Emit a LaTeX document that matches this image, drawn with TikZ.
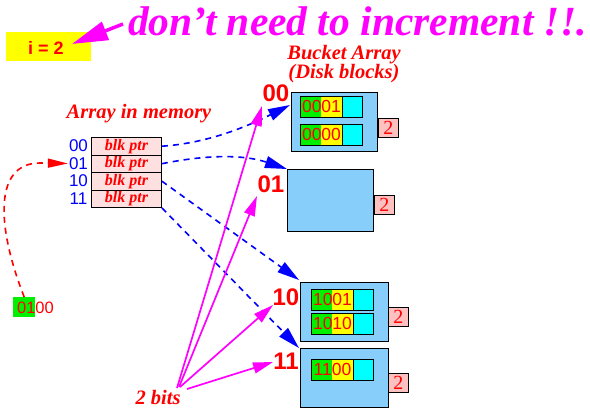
\documentclass[tikz,border=0pt]{standalone}
\usepackage{fontspec}
\setmainfont{Liberation Serif}
\setsansfont{Liberation Sans}
\usetikzlibrary{arrows.meta}
\definecolor{mag}{RGB}{255,0,255}
\definecolor{blu}{RGB}{0,0,255}
\definecolor{rd}{RGB}{255,0,0}
\definecolor{ylw}{RGB}{255,255,0}
\definecolor{grn}{RGB}{0,240,0}
\definecolor{cyn}{RGB}{0,255,255}
\definecolor{bkt}{RGB}{135,206,250}
\definecolor{pnk}{RGB}{255,192,192}
\definecolor{cellpink}{RGB}{255,224,224}
\newcommand\recbox[4]{%
  \fill[grn] (#1,#2) rectangle ++(21,21);
  \fill[ylw] (#1+21,#2) rectangle ++(21,21);
  \fill[cyn] (#1+42,#2) rectangle ++(20,21);
  \draw[line width=0.9pt] (#1,#2) rectangle ++(62,21);
  \draw[line width=0.9pt] (#1+42,#2) -- ++(0,21);
  \node[rectxt] (#3) at (#1+21.5,#2+10.5) {#4};
}
\begin{document}
\begin{tikzpicture}[x=1pt,y=-1pt,
  bucket/.style={draw=black, line width=1pt, fill=bkt, anchor=north west, inner sep=0pt},
  dbox/.style={draw=black, line width=0.9pt, fill=pnk, anchor=north west, inner sep=0pt,
     minimum width=20pt, minimum height=19pt, text=rd, font=\fontsize{20}{20}\selectfont},
  cell/.style={draw=black, line width=0.9pt, fill=cellpink, anchor=north west, inner sep=0pt,
     minimum width=70pt, minimum height=17.5pt, text=rd, font=\bfseries\itshape\fontsize{16}{16}\selectfont},
  rectxt/.style={text=rd, inner sep=0pt, font=\sffamily\fontsize{17.5}{17.5}\selectfont},
  idx/.style={text=blu, inner sep=1pt, font=\sffamily\fontsize{17}{17}\selectfont},
  blab/.style={text=rd, inner sep=0pt, font=\sffamily\bfseries\fontsize{24}{24}\selectfont},
  heading/.style={text=rd, inner sep=0pt, align=center, font=\bfseries\itshape\fontsize{20.5}{19}\selectfont},
  bluearrow/.style={blu, line width=1.6pt, dash pattern=on 6pt off 5pt, -{Triangle[length=22pt,width=12pt]}},
  magarrow/.style={mag, line width=1.7pt, -{Triangle[length=20pt,width=11pt]}},
  reddash/.style={rd, line width=1.6pt, dash pattern=on 6pt off 5pt, -{Triangle[length=20pt,width=9pt]}}
]
\useasboundingbox (0,0) rectangle (590,408);

% title
\node[anchor=base west, inner sep=0pt, text=mag, font=\bfseries\itshape\fontsize{41.5}{42}\selectfont] (title) at (128,35) {don’t need to increment !!.};
\node[fill=ylw, anchor=north west, inner sep=0pt, minimum width=85pt, minimum height=29pt] (ibox) at (6,32) {};
\node[text=rd, inner sep=0pt, font=\sffamily\bfseries\fontsize{18}{18}\selectfont] (ival) at (46,48) {i = 2};
\coordinate (tstart) at (123,24);
\coordinate (tend) at (72,44);
\draw[mag, line width=3.5pt, -{Triangle[length=36pt,width=19pt]}] (tstart) -- (tend);

% array in memory
\node[heading] (arrh) at (139,114) {Array in memory};
\node[cell] (c0) at (91,137) {blk ptr};
\node[cell] (c1) at (91,154.5) {blk ptr};
\node[cell] (c2) at (91,172) {blk ptr};
\node[cell] (c3) at (91,189.5) {blk ptr};
\node[idx] (l00) at (78.5,146) {00};
\node[idx] (l01) at (78.5,163.5) {01};
\node[idx] (l10) at (78.5,181) {10};
\node[idx] (l11) at (78.5,198.5) {11};

% key 0100
\node[fill=grn, anchor=north west, inner sep=0pt, minimum width=22pt, minimum height=20pt] (g01) at (13,297) {};
\node[rectxt, font=\sffamily\fontsize{16.5}{16.5}\selectfont] (key) at (35.5,307.5) {0100};
\draw[reddash] (g01.north) .. controls (-4,225) and (-6,163) .. (40,163) -- (l01.west);

% bucket array heading
\node[heading] (bh) at (344,64) {Bucket Array\\(Disk blocks)};

% buckets
\node[bucket, minimum width=86pt, minimum height=59pt] (b00) at (291,92) {};
\recbox{300}{96}{r00a}{0001}
\recbox{300}{124}{r00b}{0000}
\node[dbox] (d00) at (378,118) {2};

\node[bucket, minimum width=86pt, minimum height=62pt] (b01) at (287,169) {};
\node[dbox] (d01) at (374,195) {2};

\node[bucket, minimum width=88pt, minimum height=59pt] (b10) at (300,282) {};
\recbox{311}{289}{r10a}{1001}
\recbox{311}{313}{r10b}{1010}
\node[dbox] (d10) at (388,307) {2};

\node[bucket, minimum width=88pt, minimum height=59pt] (b11) at (300,348) {};
\recbox{311}{359}{r11a}{1100}
\node[dbox] (d11) at (388,373) {2};

% bucket labels
\node[blab] (k00) at (276,93) {00};
\node[blab] (k01) at (271,184) {01};
\node[blab] (k10) at (286,297) {10};
\node[blab] (k11) at (286,361) {11};

% blue pointers
\coordinate (e00) at (290,105);
\draw[bluearrow] (c0.east) .. controls (210,143) and (250,125) .. (e00);
\draw[bluearrow] (c1.east) .. controls (210,154) and (245,155) .. (b01.north west);
\draw[bluearrow] (c2.east) -- ([xshift=-1pt,yshift=2pt]b10.north west);
\draw[bluearrow] (c3.south east) -- ([xshift=-1pt,yshift=0pt]b11.north west);

% 2 bits
\node[text=rd, inner sep=0pt, font=\bfseries\itshape\fontsize{20.5}{20}\selectfont] (bits) at (158,397) {2 bits};
\coordinate (s00) at (177,388);
\coordinate (s01) at (179,387);
\coordinate (s10) at (180,387);
\coordinate (s11) at (187,389);
\coordinate (t00) at (262,106);
\coordinate (t01) at (257,196);
\coordinate (t10) at (273,305);
\coordinate (t11) at (273,362);
\draw[magarrow] (s00) -- (t00);
\draw[magarrow] (s01) -- (t01);
\draw[magarrow] (s10) -- (t10);
\draw[magarrow] (s11) -- (t11);
\end{tikzpicture}
\end{document}
